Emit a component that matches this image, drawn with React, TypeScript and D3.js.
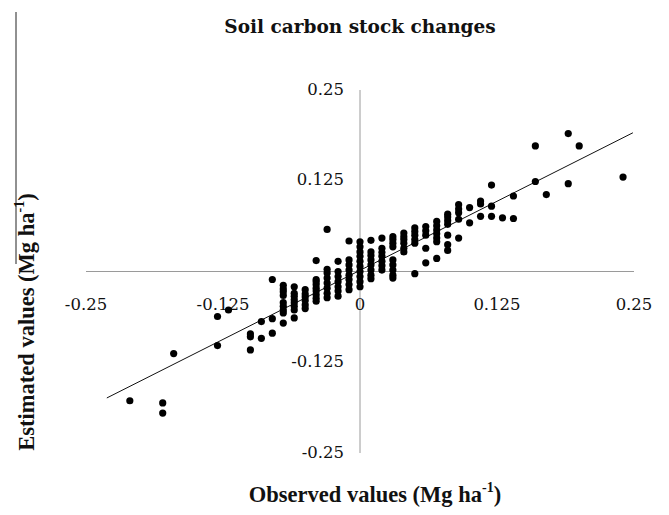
import React from "react";
import * as d3 from "d3";

// Observed value of each column of points (Mg ha-1)
const observed = [
  -0.21, -0.18, -0.17, -0.13, -0.12, -0.10, -0.09, -0.08, -0.07, -0.06, -0.05, -0.04,
  -0.03, -0.02, -0.01, 0, 0.01, 0.02, 0.03, 0.04, 0.05, 0.06, 0.07, 0.08, 0.09, 0.10,
  0.11, 0.12, 0.13, 0.14, 0.16, 0.17, 0.19, 0.20, 0.24,
];
// Estimated values found at each observed value
const estimated = [
  [-0.178],
  [-0.181, -0.195],
  [-0.113],
  [-0.062, -0.102],
  [-0.053],
  [-0.086, -0.090, -0.108],
  [-0.069, -0.092],
  [-0.011, -0.065, -0.085],
  [-0.019, -0.024, -0.028, -0.033, -0.043, -0.048, -0.053, -0.057, -0.071],
  [-0.021, -0.030, -0.034, -0.039, -0.043, -0.048, -0.053, -0.064],
  [-0.025, -0.031, -0.035, -0.040, -0.046, -0.051],
  [0.015, -0.011, -0.014, -0.018, -0.023, -0.027, -0.032, -0.037, -0.041],
  [0.058, 0.003, -0.002, -0.009, -0.016, -0.023, -0.030, -0.036],
  [0.014, 0.000, -0.007, -0.014, -0.021, -0.027, -0.034],
  [0.042, 0.016, 0.009, 0.002, -0.005, -0.011, -0.018, -0.025],
  [0.041, 0.034, 0.027, 0.021, 0.014, 0.007, 0.000, -0.007, -0.014, -0.021],
  [0.043, 0.027, 0.022, 0.016, 0.009, 0.002, -0.005, -0.010],
  [0.046, 0.032, 0.026, 0.021, 0.014, 0.008, 0.002],
  [0.048, 0.044, 0.039, 0.034, 0.016, 0.009, 0.002, -0.005, -0.009],
  [0.053, 0.048, 0.044, 0.039, 0.032, 0.027],
  [0.060, 0.055, 0.050, 0.044, 0.039, -0.003],
  [0.062, 0.056, 0.050, 0.032, 0.012],
  [0.069, 0.063, 0.057, 0.052, 0.046, 0.041, 0.018],
  [0.079, 0.075, 0.070, 0.065, 0.050, 0.037, 0.029],
  [0.092, 0.086, 0.081, 0.072, 0.046],
  [0.088, 0.067],
  [0.097, 0.093, 0.076],
  [0.119, 0.090, 0.076],
  [0.074],
  [0.104, 0.073],
  [0.173, 0.124],
  [0.106],
  [0.190, 0.121],
  [0.173],
  [0.130],
];

// Linear trend line
const trendSlope = 0.761;
const trendIntercept = 0.0016;
const trendRange = [-0.231, 0.249];

const xTicks = [-0.25, -0.125, 0, 0.125, 0.25];
const yTicks = [0.25, 0.125, -0.125, -0.25];

const W = 669;
const H = 515;

export default function App() {
  const x = d3.scaleLinear().domain([-0.25, 0.25]).range([86, 634]);
  const y = d3.scaleLinear().domain([-0.25, 0.25]).range([453, 90]);

  const points: [number, number][] = [];
  observed.forEach((o, i) => estimated[i].forEach((e) => points.push([o, e])));

  const line = d3
    .line<number>()
    .x((d) => x(d))
    .y((d) => y(trendSlope * d + trendIntercept));

  const fmt = (v: number) => (v === 0 ? "0" : String(v));
  const tickFont = "'DejaVu Serif', serif";
  const axisTitleFont = "'Liberation Serif', 'Times New Roman', serif";

  return (
    <svg
      width={W}
      height={H}
      style={{ position: "absolute", left: 0, top: 0, background: "#fff" }}
    >
      <rect x={0} y={0} width={W} height={H} fill="#fff" />
      <line x1={16} x2={16} y1={12} y2={264} stroke="#222" strokeWidth={1} />

      <text
        x={360}
        y={28}
        textAnchor="middle"
        dominantBaseline="middle"
        fontFamily={tickFont}
        fontWeight="bold"
        fontSize={18.5}
        fill="#111"
      >
        Soil carbon stock changes
      </text>

      {/* axes crossing at origin */}
      <line x1={x(-0.25)} x2={x(0.25)} y1={y(0)} y2={y(0)} stroke="#9a9a9a" strokeWidth={1} />
      <line x1={x(0)} x2={x(0)} y1={y(0.25)} y2={y(-0.25)} stroke="#9a9a9a" strokeWidth={1} />

      {xTicks.map((t) => (
        <text
          key={"x" + t}
          x={x(t)}
          y={305}
          textAnchor="middle"
          dominantBaseline="middle"
          fontFamily={tickFont}
          fontSize={16.5}
          fill="#111"
        >
          {fmt(t)}
        </text>
      ))}
      {yTicks.map((t) => (
        <text
          key={"y" + t}
          x={344}
          y={y(t)}
          textAnchor="end"
          dominantBaseline="middle"
          fontFamily={tickFont}
          fontSize={16.5}
          fill="#111"
        >
          {fmt(t)}
        </text>
      ))}

      <path
        d={line(trendRange) || ""}
        fill="none"
        stroke="#111"
        strokeWidth={1}
      />

      {points.map(([o, e], i) => (
        <circle key={i} cx={x(o)} cy={y(e)} r={3.6} fill="#000" />
      ))}

      <text
        x={375}
        y={497}
        textAnchor="middle"
        dominantBaseline="middle"
        fontFamily={axisTitleFont}
        fontWeight="bold"
        fontSize={22.5}
        fill="#111"
      >
        Observed values (Mg ha
        <tspan fontSize={14} dy={-8}>-1</tspan>
        <tspan dy={8}>)</tspan>
      </text>

      <text
        transform={`translate(29, 322) rotate(-90)`}
        textAnchor="middle"
        dominantBaseline="middle"
        fontFamily={axisTitleFont}
        fontWeight="bold"
        fontSize={22.5}
        fill="#111"
      >
        Estimated values (Mg ha
        <tspan fontSize={14} dy={-8}>-1</tspan>
        <tspan dy={8}>)</tspan>
      </text>
    </svg>
  );
}
